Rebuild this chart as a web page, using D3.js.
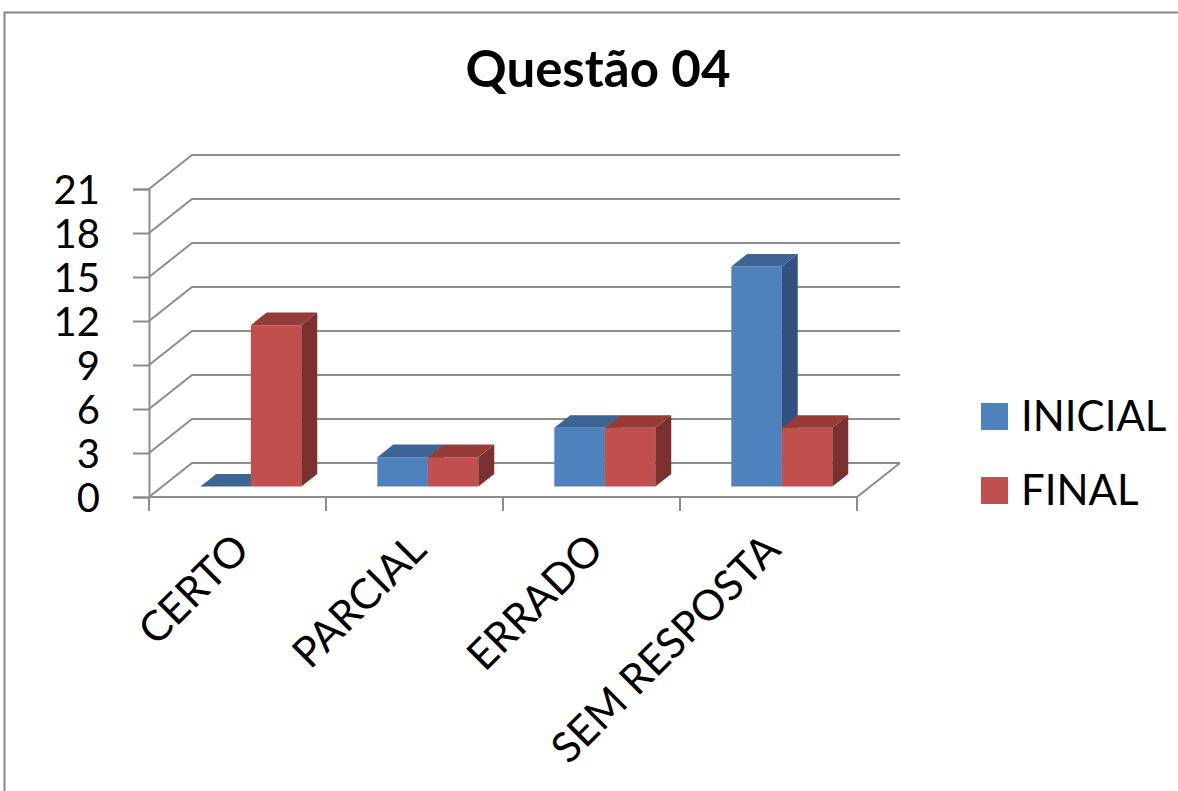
<!DOCTYPE html>
<html>
<head>
<meta charset="utf-8">
<script src="https://cdn.jsdelivr.net/npm/d3@7"></script>
<style>
  body { margin: 0; background: #fff; }
  svg { display: block; }
  text { font-family: Lato, "Open Sans", sans-serif; fill: #000; }
</style>
</head>
<body>
<div id="chart"></div>
<script>
var categories = ["CERTO", "PARCIAL", "ERRADO", "SEM RESPOSTA"];
var seriesNames = ["INICIAL", "FINAL"];
var inicial = [0, 2, 4, 15];
var final = [11, 2, 4, 4];
var yTicks = [0, 3, 6, 9, 12, 15, 18, 21];

var W = 1178, H = 791;

// front plane of the 3d box and its depth offset
var plot = { left: 149, right: 857, top: 189, bottom: 497 };
var depth = { dx: 43, dy: -34 };
var barFront = 0.31, barBack = 0.68;

var colors = {
    INICIAL: { front: "#4F81BD", top: "#3C6595", side: "#31527F" },
    FINAL: { front: "#C0504D", top: "#953C39", side: "#7A302E" }
};

var svg = d3.select("#chart").append("svg")
    .attr("width", W)
    .attr("height", H);

// chart area border
svg.append("rect")
    .attr("x", 4.5).attr("y", 12.5)
    .attr("width", W + 20).attr("height", H + 20)
    .attr("fill", "#fff")
    .attr("stroke", "#868686")
    .attr("stroke-width", 2);

svg.append("text")
    .attr("x", 598).attr("y", 87)
    .attr("text-anchor", "middle")
    .style("font-size", "51px")
    .style("font-weight", "bold")
    .text("Questão 04");

var x = d3.scaleBand().domain(categories).range([plot.left, plot.right]);
var y = d3.scaleLinear().domain([0, 21]).range([plot.bottom, plot.top]);
var xs = d3.scaleBand().domain(seriesNames).range([0, 101]);
var inset = (x.bandwidth() - 101) / 2;

var grid = svg.append("g").attr("stroke", "#8C8C8C").attr("stroke-width", 2).attr("fill", "none");

// back wall gridlines + side wall diagonals
yTicks.forEach(function(t) {
    var yf = y(t);
    grid.append("path")
        .attr("d", "M" + plot.left + "," + yf +
              "L" + (plot.left + depth.dx) + "," + (yf + depth.dy) +
              "L" + (plot.right + depth.dx) + "," + (yf + depth.dy));
});

// floor front edge and right edge
grid.append("path")
    .attr("d", "M" + plot.left + "," + plot.bottom + "L" + plot.right + "," + plot.bottom +
          "L" + (plot.right + depth.dx) + "," + (plot.bottom + depth.dy));

// y axis
var yAxis = d3.axisLeft(y)
    .tickValues(yTicks)
    .tickSize(16)
    .tickPadding(33);

var yG = svg.append("g")
    .attr("transform", "translate(" + plot.left + ",0)")
    .call(yAxis);
yG.select(".domain").attr("stroke", "#8C8C8C").attr("stroke-width", 2);
yG.selectAll(".tick line").attr("stroke", "#8C8C8C").attr("stroke-width", 2);
yG.selectAll(".tick text")
    .attr("dy", "0.36em")
    .style("font-size", "40px")
    .style("font-family", "Lato, sans-serif")
    .attr("fill", "#000");

// x ticks at category boundaries
var bounds = categories.map(function(c) { return x(c); }).concat([plot.right]);
grid.selectAll(".xtick").data(bounds).enter().append("line")
    .attr("x1", function(d) { return d; })
    .attr("x2", function(d) { return d; })
    .attr("y1", plot.bottom)
    .attr("y2", plot.bottom + 14);

// category labels
svg.selectAll(".xlabel").data(categories).enter().append("text")
    .attr("transform", function(d) {
        return "translate(" + (x(d) + x.bandwidth() / 2 + 14) + "," + (plot.bottom + 55) + ") rotate(-45)";
    })
    .attr("text-anchor", "end")
    .style("font-size", "42px")
    .text(function(d) { return d; });

// bars
var bars = [];
categories.forEach(function(c, i) {
    bars.push({ cat: c, s: "INICIAL", v: inicial[i] });
    bars.push({ cat: c, s: "FINAL", v: final[i] });
});

var barG = svg.append("g");
bars.forEach(function(b) {
    var ox = depth.dx * barFront, oy = depth.dy * barFront;
    var bx = depth.dx * (barBack - barFront), by = depth.dy * (barBack - barFront);
    var x0 = x(b.cat) + inset + xs(b.s) + ox;
    var x1 = x0 + xs.bandwidth();
    var y0 = y(0) + oy;
    var y1 = y(b.v) + oy;
    var col = colors[b.s];

    if (b.v > 0) {
        barG.append("path")
            .attr("d", "M" + x0 + "," + y0 + "L" + x1 + "," + y0 + "L" + x1 + "," + y1 + "L" + x0 + "," + y1 + "Z")
            .attr("fill", col.front);
        barG.append("path")
            .attr("d", "M" + x1 + "," + y0 + "L" + (x1 + bx) + "," + (y0 + by) +
                  "L" + (x1 + bx) + "," + (y1 + by) + "L" + x1 + "," + y1 + "Z")
            .attr("fill", col.side);
    }
    barG.append("path")
        .attr("d", "M" + x0 + "," + y1 + "L" + x1 + "," + y1 +
              "L" + (x1 + bx) + "," + (y1 + by) + "L" + (x0 + bx) + "," + (y1 + by) + "Z")
        .attr("fill", col.top);
});

// legend
var legend = svg.append("g");
seriesNames.forEach(function(s, i) {
    var ly = 403 + i * 74;
    legend.append("rect")
        .attr("x", 981).attr("y", ly)
        .attr("width", 27).attr("height", 27)
        .attr("fill", colors[s].front);
    legend.append("text")
        .attr("x", 1021).attr("y", ly + 28)
        .style("font-size", "42px")
        .text(s);
});
</script>
</body>
</html>
